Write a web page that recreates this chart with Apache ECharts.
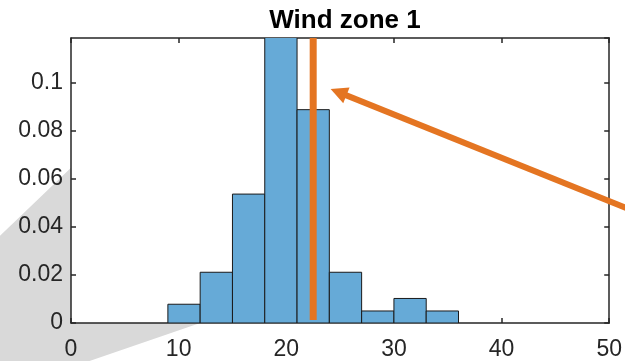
<!DOCTYPE html>
<html>
<head>
<meta charset="utf-8">
<script src="https://cdn.jsdelivr.net/npm/echarts@6/dist/echarts.min.js"></script>
<style>
html,body{margin:0;padding:0;background:#fff;}
#chart{width:625px;height:361px;}
</style>
</head>
<body>
<div id="chart"></div>
<script>
// ---- data ----
const titleText = 'Wind zone 1';
const binEdges = [9, 12, 15, 18, 21, 24, 27, 30, 33, 36];
const binValues = [0.0078, 0.0211, 0.0536, 0.125, 0.0887, 0.0211, 0.0050, 0.0102, 0.0050];
const meanWind = 22.5;
const xMin = 0, xMax = 50, xStep = 10;
const yMin = 0, yMax = 0.1185, yStep = 0.02;
// annotation arrow (data coordinates: tail outside right edge, tip near the mean line)
const arrowTail = [58.06, 0.0361];
const arrowTip = [24.12, 0.0973];
// grey zoom cone behind the axes (data coordinates)
const conePoints = [[-12, 0.0131], [0, 0.0646], [0, 0], [12, 0], [-12, -0.0369]];

const textColor = '#262626';
const fontFamily = '"Liberation Sans", Arial, Helvetica, sans-serif';
const orange = '#E47522';

const histData = binValues.map((v, i) => [binEdges[i], binEdges[i + 1], v]);

const chart = echarts.init(document.getElementById('chart'), null, {renderer: 'canvas'});

const yLabelFmt = v => {
  const k = v / yStep;
  if (Math.abs(k - Math.round(k)) > 1e-6) return '';
  return String(+v.toFixed(2));
};

const axisLineStyle = {color: textColor, width: 1.5};

chart.setOption({
  animation: false,
  backgroundColor: '#fff',
  title: {
    text: titleText,
    left: 340,
    top: 3,
    textAlign: 'center',
    textStyle: {fontFamily, fontWeight: 'bold', fontSize: 26, color: '#000'}
  },
  grid: {left: 71, right: 12, top: 38, bottom: 38, containLabel: false},
  xAxis: [{
    type: 'value', min: xMin, max: xMax, interval: xStep,
    axisLine: {show: true, onZero: false, lineStyle: axisLineStyle},
    axisTick: {show: true, inside: true, length: 5, lineStyle: {color: textColor, width: 1.5}},
    axisLabel: {color: textColor, fontFamily, fontSize: 23, margin: 15},
    splitLine: {show: false}
  }, {
    type: 'value', position: 'top', min: xMin, max: xMax, interval: xStep,
    axisLine: {show: true, onZero: false, lineStyle: axisLineStyle},
    axisTick: {show: true, inside: true, length: 5, lineStyle: {color: textColor, width: 1.5}},
    axisLabel: {show: false}, splitLine: {show: false}
  }],
  yAxis: [{
    type: 'value', min: yMin, max: yMax, interval: yStep,
    axisLine: {show: true, onZero: false, lineStyle: axisLineStyle},
    axisTick: {show: true, inside: true, length: 5, lineStyle: {color: textColor, width: 1.5}},
    axisLabel: {color: textColor, fontFamily, fontSize: 23, margin: 8, formatter: yLabelFmt, showMaxLabel: false},
    splitLine: {show: false}
  }, {
    type: 'value', position: 'right', min: yMin, max: yMax, interval: yStep,
    axisLine: {show: true, onZero: false, lineStyle: axisLineStyle},
    axisTick: {show: true, inside: true, length: 5, lineStyle: {color: textColor, width: 1.5}},
    axisLabel: {show: false}, splitLine: {show: false}
  }],
  series: [{
    type: 'custom',
    xAxisIndex: 0, yAxisIndex: 0,
    clip: true,
    data: histData,
    renderItem: function (params, api) {
      const p0 = api.coord([api.value(0), 0]);
      const p1 = api.coord([api.value(1), api.value(2)]);
      return {
        type: 'rect',
        shape: {x: p0[0], y: p1[1], width: p1[0] - p0[0], height: p0[1] - p1[1]},
        style: {fill: '#66AAD7', stroke: '#1a1a1a', lineWidth: 1}
      };
    },
    z: 2
  }, {
    type: 'line',
    xAxisIndex: 0, yAxisIndex: 0,
    data: [[meanWind, 0.0012], [meanWind, yMax]],
    symbol: 'none',
    lineStyle: {color: orange, width: 7},
    z: 3
  }]
});

function px(p) { return chart.convertToPixel({gridIndex: 0}, p); }

const tail = px(arrowTail);
const tip = px(arrowTip);
const dx = tip[0] - tail[0], dy = tip[1] - tail[1];
const len = Math.sqrt(dx * dx + dy * dy);
const ux = dx / len, uy = dy / len;
const headLen = 17, headHalf = 8.5;
const base = [tip[0] - ux * headLen, tip[1] - uy * headLen];
const nx = -uy, ny = ux;

chart.setOption({
  graphic: [{
    type: 'polygon',
    z: -1,
    silent: true,
    shape: {points: conePoints.map(px)},
    style: {fill: '#d9d9d9'}
  }, {
    type: 'line',
    z: 100,
    silent: true,
    shape: {x1: tail[0], y1: tail[1], x2: base[0] + ux * 2, y2: base[1] + uy * 2},
    style: {stroke: orange, lineWidth: 6}
  }, {
    type: 'polygon',
    z: 100,
    silent: true,
    shape: {points: [tip, [base[0] + nx * headHalf, base[1] + ny * headHalf], [base[0] - nx * headHalf, base[1] - ny * headHalf]]},
    style: {fill: orange}
  }]
});
</script>
</body>
</html>
